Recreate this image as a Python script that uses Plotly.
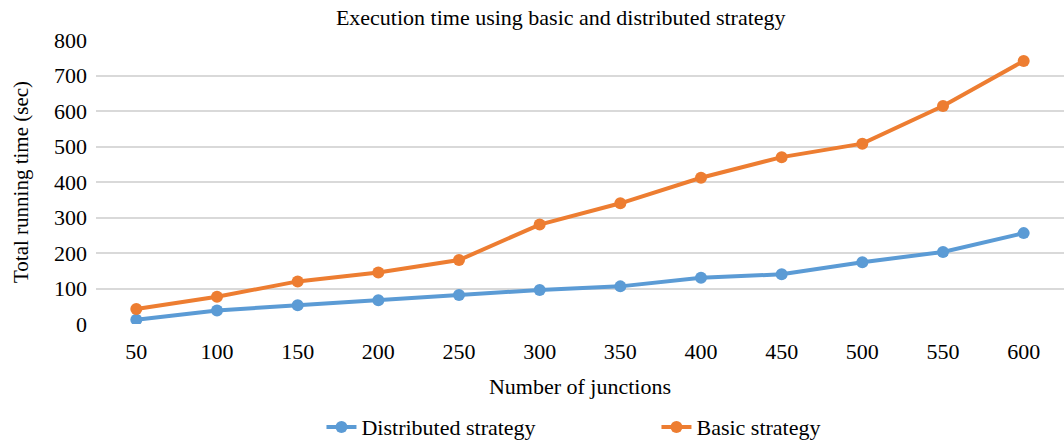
import plotly.graph_objects as go

junctions = ["50", "100", "150", "200", "250", "300", "350", "400", "450", "500", "550", "600"]
distributed = [12, 38, 53, 67, 82, 96, 106, 130, 140, 174, 203, 256]
basic = [42, 77, 120, 145, 180, 280, 340, 412, 470, 508, 614, 741]
y_ticks = [0, 100, 200, 300, 400, 500, 600, 700, 800]

FONT = "Liberation Serif, Times New Roman, serif"
BLUE = "#5B9BD5"
ORANGE = "#ED7D31"

fig = go.Figure()
fig.add_trace(go.Scatter(
    x=junctions, y=distributed, name="Distributed strategy",
    mode="lines+markers",
    line=dict(color=BLUE, width=4),
    marker=dict(color=BLUE, size=12),
))
fig.add_trace(go.Scatter(
    x=junctions, y=basic, name="Basic strategy",
    mode="lines+markers",
    line=dict(color=ORANGE, width=4),
    marker=dict(color=ORANGE, size=12),
))

fig.update_layout(
    width=1064, height=443,
    margin=dict(l=96, r=0, t=40, b=119, autoexpand=False),
    paper_bgcolor="white", plot_bgcolor="white",
    font=dict(family=FONT, size=22, color="#000000"),
    title=dict(text="Execution time using basic and distributed strategy",
               x=0.527, xanchor="center", y=0.9605, yanchor="middle",
               font=dict(family=FONT, size=22, color="#000000")),
    showlegend=True,
    legend=dict(orientation="h", x=0.579, xanchor="center", y=-0.363, yanchor="middle",
                font=dict(family=FONT, size=22),
                traceorder="normal", entrywidth=290),
    xaxis=dict(
        type="category", range=[-0.5, 11.5], automargin=False,
        showgrid=False, showline=False, zeroline=False,
        ticks="", tickfont=dict(family=FONT, size=22), ticklabelstandoff=12,
        title=dict(text="Number of junctions", standoff=15,
                   font=dict(family=FONT, size=22)),
    ),
    yaxis=dict(
        range=[0, 800], tickvals=y_ticks, automargin=False,
        showgrid=True, gridcolor="#D9D9D9", gridwidth=1.5,
        zeroline=False, showline=False, ticks="",
        tickfont=dict(family=FONT, size=22), ticklabelstandoff=8,
        title=dict(text="Total running time (sec)", standoff=19,
                   font=dict(family=FONT, size=21)),
    ),
)

fig.write_html("out.html",
               config={"displayModeBar": False},
               post_script="document.body.style.margin='0';document.body.style.overflow='hidden';")
